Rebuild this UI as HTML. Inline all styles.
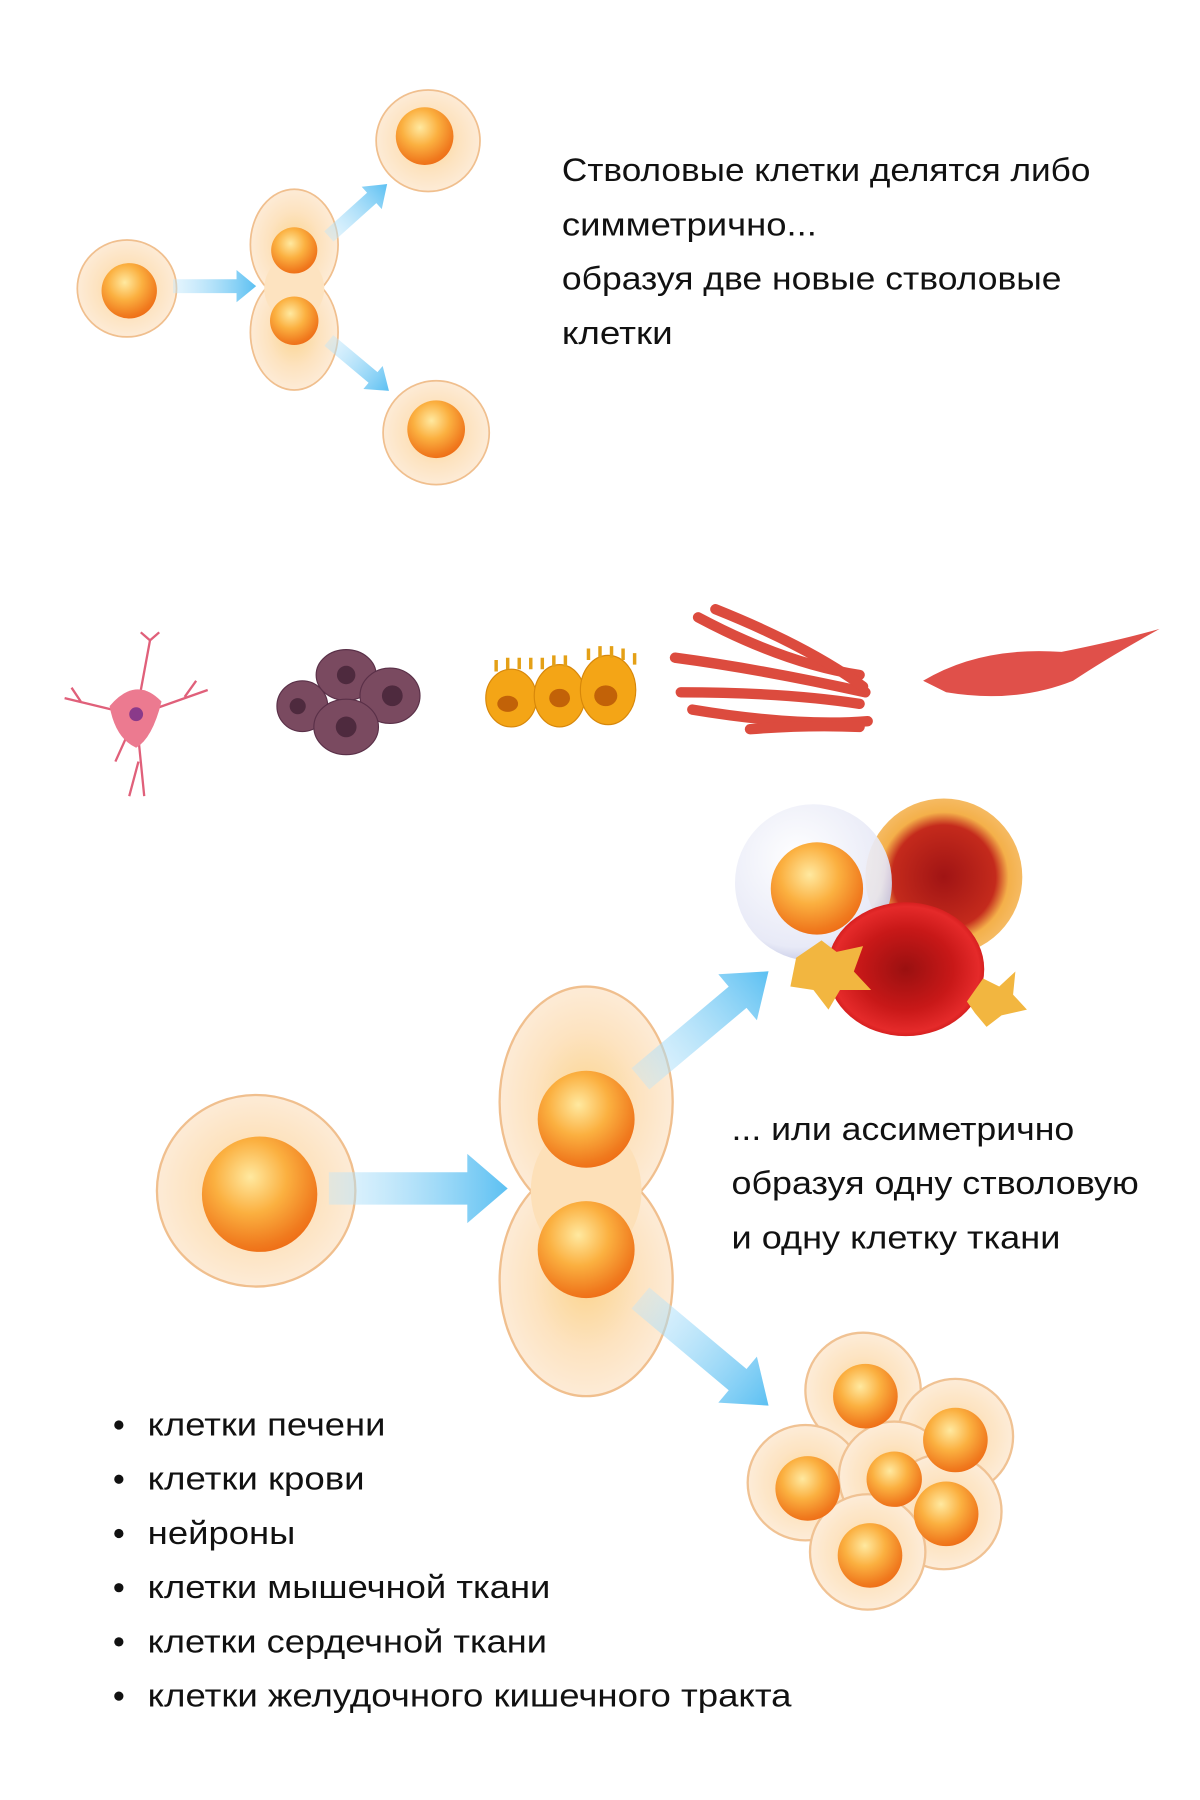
<!DOCTYPE html>
<html><head><meta charset="utf-8"><style>
html,body{margin:0;padding:0;background:#fff;}
svg{display:block}
text{font-family:"Liberation Sans",sans-serif;fill:#111;}
</style></head><body>
<svg width="1200" height="1800" viewBox="0 0 1040 1560" preserveAspectRatio="none" xmlns="http://www.w3.org/2000/svg">
<defs>
<radialGradient id="nuc" cx="0.42" cy="0.35" r="0.7">
<stop offset="0" stop-color="#ffe9a0"/><stop offset="0.45" stop-color="#fbb040"/><stop offset="0.85" stop-color="#f07a1e"/><stop offset="1" stop-color="#ee6a14"/></radialGradient>
<radialGradient id="cyto" cx="0.5" cy="0.5" r="0.55">
<stop offset="0" stop-color="#fbd48e"/><stop offset="0.55" stop-color="#fde3c0"/><stop offset="0.9" stop-color="#fdebd6"/><stop offset="1" stop-color="#f6c89a"/></radialGradient>
<linearGradient id="arr" x1="0" x2="1"><stop offset="0" stop-color="#bfe6fb" stop-opacity="0.4"/><stop offset="1" stop-color="#5cc0f2"/></linearGradient>
<radialGradient id="rbc" cx="0.5" cy="0.5" r="0.55"><stop offset="0" stop-color="#9a1010"/><stop offset="0.55" stop-color="#c81818"/><stop offset="0.85" stop-color="#e52a2a"/><stop offset="1" stop-color="#c01010"/></radialGradient>
<radialGradient id="wbc" cx="0.4" cy="0.35" r="0.7"><stop offset="0" stop-color="#fff"/><stop offset="0.8" stop-color="#e6e8f6"/><stop offset="1" stop-color="#b8bde0"/></radialGradient>
<radialGradient id="orb" cx="0.5" cy="0.5" r="0.55"><stop offset="0" stop-color="#a01414"/><stop offset="0.6" stop-color="#c42a1c"/><stop offset="0.75" stop-color="#f4b04a"/><stop offset="1" stop-color="#f6c070"/></radialGradient>
</defs>

<ellipse cx="110" cy="250" rx="43" ry="42" fill="url(#cyto)" stroke="#f0bf8e" stroke-width="1.5"/>
<circle cx="112" cy="252" r="24" fill="url(#nuc)"/>
<path d="M150 242 H205 V234 L222 248 L205 262 V254 H150 Z" fill="url(#arr)"/>
<ellipse cx="255" cy="212" rx="38" ry="48" fill="url(#cyto)" stroke="#f0bf8e" stroke-width="1.5"/>
<ellipse cx="255" cy="288" rx="38" ry="50" fill="url(#cyto)" stroke="#f0bf8e" stroke-width="1.5"/>
<ellipse cx="255" cy="250" rx="26" ry="28" fill="#fde3c0"/>
<circle cx="255" cy="217" r="20" fill="url(#nuc)"/>
<circle cx="255" cy="278" r="21" fill="url(#nuc)"/>
<g transform="translate(285,205) rotate(-42)"><path d="M0 -6 H50 V-13 L68 0 L50 13 V6 H0 Z" fill="url(#arr)"/></g>
<g transform="translate(285,295) rotate(40)"><path d="M0 -6 H50 V-13 L68 0 L50 13 V6 H0 Z" fill="url(#arr)"/></g>
<ellipse cx="371" cy="122" rx="45" ry="44" fill="url(#cyto)" stroke="#f0bf8e" stroke-width="1.5"/>
<circle cx="368" cy="118" r="25" fill="url(#nuc)"/>
<ellipse cx="378" cy="375" rx="46" ry="45" fill="url(#cyto)" stroke="#f0bf8e" stroke-width="1.5"/>
<circle cx="378" cy="372" r="25" fill="url(#nuc)"/>

<g font-size="28">
<text x="487" y="157" textLength="458" lengthAdjust="spacingAndGlyphs">Стволовые клетки делятся либо</text>
<text x="487" y="204" textLength="221" lengthAdjust="spacingAndGlyphs">симметрично...</text>
<text x="487" y="251" textLength="433" lengthAdjust="spacingAndGlyphs">образуя две новые стволовые</text>
<text x="487" y="298" textLength="96" lengthAdjust="spacingAndGlyphs">клетки</text>
</g>

<g stroke="#e0607a" stroke-width="2" fill="none">
<path d="M118 620 L130 555 M130 555 L122 548 M130 555 L138 548 M118 620 L56 605 M70 608 L62 596 M118 620 L180 598 M160 604 L170 590 M118 620 L125 690 M120 660 L112 690 M118 620 L100 660"/>
</g>
<path d="M95 612 Q118 585 140 608 Q132 640 118 648 Q100 640 95 612Z" fill="#ec7a90"/>
<circle cx="118" cy="619" r="6" fill="#8a3a8a"/>
<g fill="#7a4a60" stroke="#5a3048" stroke-width="1">
<ellipse cx="262" cy="612" rx="22" ry="22"/><ellipse cx="300" cy="585" rx="26" ry="22"/><ellipse cx="338" cy="603" rx="26" ry="24"/><ellipse cx="300" cy="630" rx="28" ry="24"/>
</g>
<g fill="#4e2a3e"><circle cx="300" cy="585" r="8"/><circle cx="340" cy="603" r="9"/><circle cx="300" cy="630" r="9"/><circle cx="258" cy="612" r="7"/></g>
<g fill="#f4a516" stroke="#d7870a"><ellipse cx="443" cy="605" rx="22" ry="25"/><ellipse cx="485" cy="603" rx="22" ry="27"/><ellipse cx="527" cy="598" rx="24" ry="30"/></g>
<g fill="#c26208"><ellipse cx="440" cy="610" rx="9" ry="7"/><ellipse cx="485" cy="605" rx="9" ry="8"/><ellipse cx="525" cy="603" rx="10" ry="9"/></g>
<g stroke="#e4a016" stroke-width="3"><path d="M430 582 V572 M440 580 V570 M450 580 V570 M460 580 V570 M470 580 V570 M480 578 V568 M490 578 V568 M510 572 V562 M520 570 V560 M530 570 V560 M540 572 V562 M550 576 V566"/></g>
<g stroke="#d9382a" stroke-width="9" stroke-linecap="round" fill="none" opacity="0.9">
<path d="M605 535 Q680 575 745 585"/><path d="M585 570 Q660 580 750 600"/><path d="M590 600 Q680 600 745 610"/><path d="M620 528 Q700 560 748 595"/><path d="M600 615 Q690 630 752 625"/><path d="M650 632 Q700 628 745 630"/>
</g>
<path d="M800 590 Q850 560 920 565 Q970 555 1005 545 Q960 570 930 590 Q880 610 820 600 Z" fill="#e0504a"/>

<circle cx="818" cy="760" r="68" fill="url(#orb)"/>
<circle cx="705" cy="765" r="68" fill="url(#wbc)" opacity="0.92"/>
<circle cx="708" cy="770" r="40" fill="url(#nuc)"/>
<ellipse cx="785" cy="840" rx="68" ry="58" fill="url(#rbc)"/>
<path d="M690 830 L712 815 L725 825 L748 820 L740 842 L755 858 L728 858 L718 875 L705 858 L685 855 Z" fill="#f2b640"/>
<path d="M838 868 L852 848 L866 855 L880 842 L878 862 L890 875 L868 880 L855 890 L845 878 Z" fill="#f2b640"/>

<ellipse cx="222" cy="1032" rx="86" ry="83" fill="url(#cyto)" stroke="#f0bf8e" stroke-width="2"/>
<circle cx="225" cy="1035" r="50" fill="url(#nuc)"/>
<path d="M285 1016 H405 V1000 L440 1030 L405 1060 V1044 H285 Z" fill="url(#arr)"/>
<ellipse cx="508" cy="955" rx="75" ry="100" fill="url(#cyto)" stroke="#f0bf8e" stroke-width="2"/>
<ellipse cx="508" cy="1110" rx="75" ry="100" fill="url(#cyto)" stroke="#f0bf8e" stroke-width="2"/>
<ellipse cx="508" cy="1032" rx="48" ry="60" fill="#fde0b8"/>
<circle cx="508" cy="970" r="42" fill="url(#nuc)"/>
<circle cx="508" cy="1083" r="42" fill="url(#nuc)"/>
<g transform="translate(555,935) rotate(-40)"><path d="M0 -12 H110 V-26 L145 0 L110 26 V12 H0 Z" fill="url(#arr)"/></g>
<g transform="translate(555,1125) rotate(40)"><path d="M0 -12 H110 V-26 L145 0 L110 26 V12 H0 Z" fill="url(#arr)"/></g>

<g stroke="#f0bf8e" stroke-width="2" fill="url(#cyto)" opacity="0.95">
<circle cx="748" cy="1205" r="50"/><circle cx="828" cy="1245" r="50"/><circle cx="698" cy="1285" r="50"/><circle cx="775" cy="1280" r="48"/><circle cx="818" cy="1310" r="50"/><circle cx="752" cy="1345" r="50"/>
</g>
<g fill="url(#nuc)"><circle cx="750" cy="1210" r="28"/><circle cx="828" cy="1248" r="28"/><circle cx="700" cy="1290" r="28"/><circle cx="775" cy="1282" r="24"/><circle cx="820" cy="1312" r="28"/><circle cx="754" cy="1348" r="28"/></g>

<g font-size="28">
<text x="634" y="988" textLength="297" lengthAdjust="spacingAndGlyphs">... или ассиметрично</text>
<text x="634" y="1035" textLength="353" lengthAdjust="spacingAndGlyphs">образуя одну стволовую</text>
<text x="634" y="1082" textLength="285" lengthAdjust="spacingAndGlyphs">и одну клетку ткани</text>
</g>

<g font-size="28">
<circle cx="103" cy="1235" r="4" fill="#111"/><text x="128" y="1244" textLength="206" lengthAdjust="spacingAndGlyphs">клетки печени</text>
<circle cx="103" cy="1282" r="4" fill="#111"/><text x="128" y="1291" textLength="188" lengthAdjust="spacingAndGlyphs">клетки крови</text>
<circle cx="103" cy="1329" r="4" fill="#111"/><text x="128" y="1338" textLength="128" lengthAdjust="spacingAndGlyphs">нейроны</text>
<circle cx="103" cy="1376" r="4" fill="#111"/><text x="128" y="1385" textLength="349" lengthAdjust="spacingAndGlyphs">клетки мышечной ткани</text>
<circle cx="103" cy="1423" r="4" fill="#111"/><text x="128" y="1432" textLength="346" lengthAdjust="spacingAndGlyphs">клетки сердечной ткани</text>
<circle cx="103" cy="1470" r="4" fill="#111"/><text x="128" y="1479" textLength="558" lengthAdjust="spacingAndGlyphs">клетки желудочного кишечного тракта</text>
</g>
</svg>
</body></html>
